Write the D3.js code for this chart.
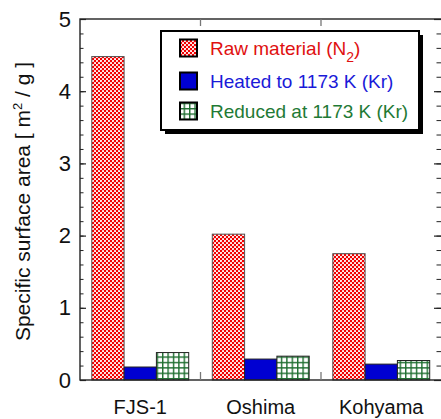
<!DOCTYPE html>
<html>
<head>
<meta charset="utf-8">
<script src="https://cdn.jsdelivr.net/npm/d3@7"></script>
<style>
  html, body { margin: 0; padding: 0; background: #fff; }
  svg { display: block; font-family: "Liberation Sans", Arial, sans-serif; }
</style>
</head>
<body>
<svg id="chart" width="441" height="419"></svg>
<script>
// Specific surface area of the samples, m^2/g
const categories = ["FJS-1", "Oshima", "Kohyama"];
const seriesNames = ["raw", "heated", "reduced"];
const rawValues = [4.48, 2.02, 1.75];
const heatedValues = [0.18, 0.29, 0.22];
const reducedValues = [0.38, 0.33, 0.27];
const yTicks = [0, 1, 2, 3, 4, 5];

const seriesValues = { raw: rawValues, heated: heatedValues, reduced: reducedValues };

const svg = d3.select("#chart");
const plotLeft = 80, plotRight = 441.5, plotTop = 19, plotBottom = 380;
const font = "'Liberation Sans', Arial, sans-serif";

const x = d3.scaleBand().domain(categories).range([plotLeft, plotRight]).paddingInner(0).paddingOuter(0);
const xs = d3.scaleBand().domain(seriesNames).range([0, x.bandwidth()]).paddingInner(0).paddingOuter(0.365);
const y = d3.scaleLinear().domain([0, 5]).range([plotBottom, plotTop]);

// fill patterns
const defs = svg.append("defs");
const pRaw = defs.append("pattern").attr("id", "pRaw").attr("patternUnits", "userSpaceOnUse")
  .attr("width", 4).attr("height", 4);
pRaw.append("rect").attr("width", 4).attr("height", 4).attr("fill", "#f20000");
pRaw.append("circle").attr("cx", 1).attr("cy", 1).attr("r", 1.05).attr("fill", "#fff");
pRaw.append("circle").attr("cx", 3).attr("cy", 3).attr("r", 1.05).attr("fill", "#fff");

const pRed = defs.append("pattern").attr("id", "pRed").attr("patternUnits", "userSpaceOnUse")
  .attr("width", 5.4).attr("height", 5.4);
pRed.append("rect").attr("width", 5.4).attr("height", 5.4).attr("fill", "#fff");
pRed.append("rect").attr("width", 5.4).attr("height", 1.4).attr("fill", "#1f6e30");
pRed.append("rect").attr("width", 1.4).attr("height", 5.4).attr("fill", "#1f6e30");

const fills = { raw: "url(#pRaw)", heated: "#0000d2", reduced: "url(#pRed)" };

// bars
const g = svg.append("g");
categories.forEach((c, i) => {
  seriesNames.forEach(s => {
    const v = seriesValues[s][i];
    g.append("rect")
      .attr("x", x(c) + xs(s))
      .attr("y", y(v))
      .attr("width", xs.bandwidth())
      .attr("height", y(0) - y(v))
      .attr("fill", fills[s])
      .attr("stroke", s === "raw" ? "#555" : "#222")
      .attr("stroke-width", 1);
  });
});

// frame (right edge sits just past the canvas)
svg.append("rect").attr("x", plotLeft).attr("y", plotTop).attr("width", 443 - plotLeft).attr("height", plotBottom - plotTop)
  .attr("fill", "none").attr("stroke", "#222").attr("stroke-width", 1.4);

// left axis: major + minor ticks pointing inward
const yMinor = d3.range(0, 5.001, 0.2);
const leftMajor = svg.append("g").attr("transform", `translate(${plotLeft},0)`)
  .call(d3.axisLeft(y).tickValues(yTicks).tickSize(-6).tickPadding(9).tickFormat(d3.format("d")));
leftMajor.select(".domain").remove();
leftMajor.selectAll("text").attr("font-size", 22).attr("fill", "#111").attr("font-family", font);
leftMajor.selectAll("line").attr("stroke", "#222").attr("stroke-width", 1.2);

const leftMinor = svg.append("g").attr("transform", `translate(${plotLeft},0)`)
  .call(d3.axisLeft(y).tickValues(yMinor).tickSize(-3.5).tickFormat(""));
leftMinor.select(".domain").remove();
leftMinor.selectAll("line").attr("stroke", "#222").attr("stroke-width", 1);

// right axis ticks
const rightX = 441;
const rightMajor = svg.append("g").attr("transform", `translate(${rightX},0)`)
  .call(d3.axisRight(y).tickValues(yTicks).tickSize(-7).tickFormat(""));
rightMajor.select(".domain").remove();
rightMajor.selectAll("line").attr("stroke", "#222").attr("stroke-width", 1.2);
const rightMinor = svg.append("g").attr("transform", `translate(${rightX},0)`)
  .call(d3.axisRight(y).tickValues(yMinor).tickSize(-4.5).tickFormat(""));
rightMinor.select(".domain").remove();
rightMinor.selectAll("line").attr("stroke", "#222").attr("stroke-width", 1);

// group separator ticks on bottom and top
const seps = categories.slice(1).map(c => x(c));
seps.forEach(sx => {
  svg.append("line").attr("x1", sx).attr("x2", sx).attr("y1", plotBottom).attr("y2", plotBottom - 8)
    .attr("stroke", "#777").attr("stroke-width", 1.3);
  svg.append("line").attr("x1", sx).attr("x2", sx).attr("y1", plotTop).attr("y2", plotTop + 7)
    .attr("stroke", "#777").attr("stroke-width", 1.3);
});

// category labels
const xAxis = svg.append("g").attr("transform", `translate(0,${plotBottom})`)
  .call(d3.axisBottom(x).tickSize(0).tickPadding(20));
xAxis.select(".domain").remove();
xAxis.selectAll("text").attr("font-size", 20).attr("fill", "#111").attr("font-family", font);

// y axis title
const yt = svg.append("text")
  .attr("transform", `translate(30,${(plotTop + plotBottom) / 2 + 2}) rotate(-90)`)
  .attr("text-anchor", "middle").attr("font-size", 21).attr("fill", "#111");
yt.append("tspan").text("Specific surface area [ m");
yt.append("tspan").attr("dy", -8).attr("font-size", 13).text("2");
yt.append("tspan").attr("dy", 8).text(" / g ]");

// legend
const lg = svg.append("g");
const lx = 161, ly = 31, lw = 258, lh = 99;
lg.append("rect").attr("x", lx + 4).attr("y", ly + 4).attr("width", lw).attr("height", lh).attr("fill", "#000");
lg.append("rect").attr("x", lx).attr("y", ly).attr("width", lw).attr("height", lh)
  .attr("fill", "#fff").attr("stroke", "#000").attr("stroke-width", 2);

const legendItems = [
  { key: "raw", color: "#e01010", parts: [["Raw material (N", 0], ["2", 1], [")", -1]] },
  { key: "heated", color: "#1a1ad8", parts: [["Heated to 1173 K (Kr)", 0]] },
  { key: "reduced", color: "#1f7a35", parts: [["Reduced at 1173 K (Kr)", 0]] }
];
const rowY = [48, 81, 111];
legendItems.forEach((it, i) => {
  const cy = rowY[i];
  lg.append("rect").attr("x", 180).attr("y", cy - 8.5).attr("width", 17).attr("height", 17)
    .attr("fill", fills[it.key]).attr("stroke", "#000").attr("stroke-width", 2);
  const t = lg.append("text").attr("x", 210).attr("y", cy + 7).attr("font-size", 19).attr("fill", it.color);
  it.parts.forEach(([txt, sub]) => {
    const ts = t.append("tspan").text(txt);
    if (sub === 1) ts.attr("dy", 7).attr("font-size", 14);
    if (sub === -1) ts.attr("dy", -7);
  });
});
</script>
</body>
</html>
